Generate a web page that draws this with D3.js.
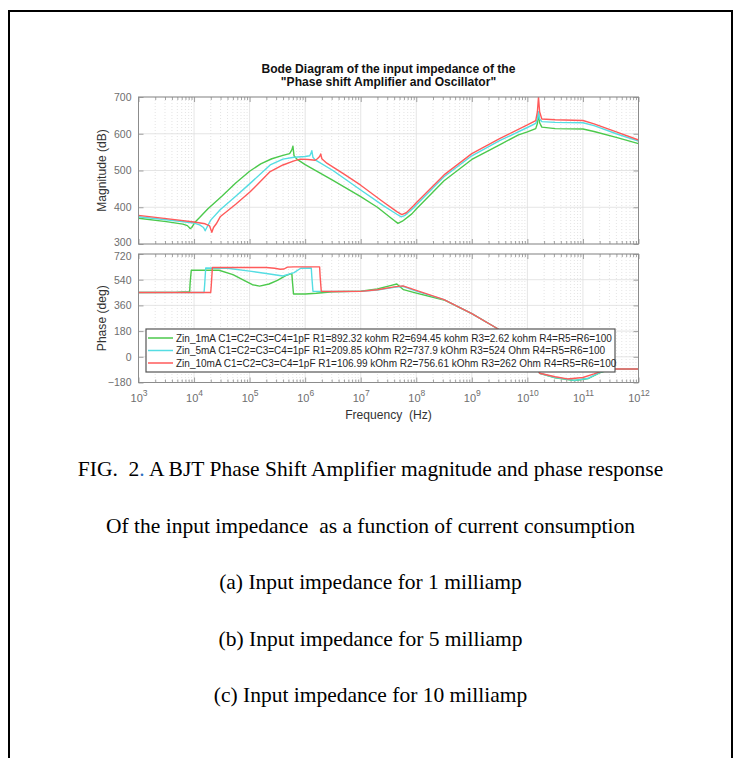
<!DOCTYPE html>
<html>
<head>
<meta charset="utf-8">
<script src="https://cdn.jsdelivr.net/npm/d3@7"></script>
<style>
  body { margin: 0; background: #fff; }
  svg { display: block; }
  text { white-space: pre; }
</style>
</head>
<body>
<svg id="fig" width="737" height="758"></svg>
<script>
// ---- data ---------------------------------------------------------------
const titleLines = ["Bode Diagram of the input impedance of the", "\"Phase shift Amplifier and Oscillator\""];
const seriesLabels = [
  "Zin_1mA C1=C2=C3=C4=1pF R1=892.32 kohm R2=694.45 kohm R3=2.62 kohm R4=R5=R6=100",
  "Zin_5mA C1=C2=C3=C4=1pF R1=209.85 kOhm R2=737.9 kOhm R3=524 Ohm R4=R5=R6=100",
  "Zin_10mA C1=C2=C3=C4=1pF R1=106.99 kOhm R2=756.61 kOhm R3=262 Ohm R4=R5=R6=100"
];
const seriesColors = ["#4cc94c", "#55dde3", "#ff5a5a"];
const freqDecades = [3, 4, 5, 6, 7, 8, 9, 10, 11, 12];   // log10(Hz)
const magTicks = [300, 400, 500, 600, 700];
const phaseTicks = [-180, 0, 180, 360, 540, 720];
const captionLines = [
  "Of the input impedance  as a function of current consumption",
  "(a) Input impedance for 1 milliamp",
  "(b) Input impedance for 5 milliamp",
  "(c) Input impedance for 10 milliamp"
];

// magnitude, [log10(f / Hz), dB]
const mag1mA = [[3.00,370],[3.50,361],[3.80,354],[3.88,350],[3.93,342],[3.96,345],[4.02,360],[4.10,372],[4.25,396],[4.50,430],[4.75,466],[5.00,498],[5.20,518],[5.40,532],[5.60,541],[5.72,546],[5.76,556],[5.78,566],[5.80,540],[5.85,531],[6.00,516],[6.27,493],[6.50,473],[7.00,429],[7.30,400],[7.55,370],[7.67,356],[7.75,362],[7.92,382],[8.00,395],[8.50,472],[9.00,530],[9.50,570],[9.84,597],[10.00,605],[10.15,614],[10.18,628],[10.20,655],[10.22,630],[10.26,618],[10.50,614],[11.00,613],[11.20,606],[11.60,590],[12.00,573]];
const mag5mA = [[3.00,374],[3.50,366],[4.00,357],[4.10,352],[4.17,345],[4.20,336],[4.23,345],[4.30,365],[4.47,393],[4.75,430],[5.01,465],[5.37,515],[5.60,531],[5.80,536],[6.00,538],[6.08,540],[6.10,545],[6.12,554],[6.14,536],[6.18,529],[6.50,500],[7.00,447],[7.40,405],[7.65,381],[7.73,374],[7.80,378],[7.95,398],[8.00,406],[8.50,483],[9.00,540],[9.50,581],[10.00,617],[10.15,628],[10.18,640],[10.20,660],[10.22,640],[10.26,633],[10.50,631],[11.00,630],[11.20,622],[11.60,600],[12.00,580]];
const mag10mA = [[3.00,378],[3.50,369],[4.00,360],[4.20,355],[4.28,349],[4.32,332],[4.35,345],[4.40,355],[4.47,374],[4.75,408],[5.01,442],[5.37,497],[5.60,515],[5.80,526],[5.91,531],[6.05,530],[6.18,528],[6.22,532],[6.26,538],[6.28,545],[6.30,532],[6.39,520],[6.70,490],[7.00,460],[7.40,415],[7.65,388],[7.74,380],[7.82,385],[7.95,404],[8.00,412],[8.50,488],[9.00,546],[9.50,587],[10.00,624],[10.15,636],[10.18,660],[10.20,700],[10.22,660],[10.26,640],[10.50,638],[11.00,636],[11.20,627],[11.60,605],[12.00,583]];

// phase, [log10(f / Hz), deg]
const phase1mA = [[3.00,450],[3.67,451],[3.80,454],[3.92,454],[3.93,520],[3.95,606],[4.45,606],[4.70,575],[4.90,535],[5.05,505],[5.18,495],[5.35,510],[5.50,535],[5.65,568],[5.76,584],[5.77,530],[5.79,440],[6.00,440],[6.20,445],[6.40,452],[6.50,456],[7.00,460],[7.30,475],[7.55,500],[7.65,510],[7.77,470],[8.00,446],[8.50,398],[9.00,302],[9.45,200],[9.80,110],[10.00,40],[10.15,-40],[10.22,-115],[10.50,-148],[10.85,-166],[11.10,-152],[11.30,-112],[11.50,-87],[12.00,-85]];
const phase5mA = [[3.00,450],[4.18,450],[4.19,500],[4.21,622],[4.60,620],[5.00,600],[5.30,583],[5.60,566],[5.80,590],[5.92,620],[6.11,622],[6.12,560],[6.14,459],[6.50,457],[7.00,458],[7.30,468],[7.60,486],[7.76,494],[8.00,460],[8.50,400],[9.00,302],[9.45,200],[9.80,110],[10.00,40],[10.15,-40],[10.22,-115],[10.50,-145],[10.85,-165],[11.10,-150],[11.30,-110],[11.45,-88],[11.55,-85],[12.00,-85]];
const phase10mA = [[3.00,450],[4.30,450],[4.31,500],[4.33,625],[5.30,625],[5.45,620],[5.55,613],[5.62,615],[5.68,628],[5.80,630],[6.26,630],[6.27,560],[6.29,459],[6.50,457],[7.00,458],[7.30,470],[7.60,490],[7.76,497],[8.00,465],[8.50,400],[9.00,302],[9.45,200],[9.80,110],[10.00,40],[10.15,-40],[10.22,-115],[10.50,-140],[10.72,-155],[11.00,-145],[11.20,-120],[11.43,-88],[11.55,-85],[12.00,-85]];

const magSeries = [mag1mA, mag5mA, mag10mA];
const phaseSeries = [phase1mA, phase5mA, phase10mA];

// ---- layout -------------------------------------------------------------
const svg = d3.select("#fig");
const W = 737, H = 758;
const left = 138.5, right = 638.5;
const magTop = 97, magBottom = 244;
const phTop = 254, phBottom = 382.5;
const sans = "'Liberation Sans', Arial, sans-serif";
const serif = "'Liberation Serif', 'Times New Roman', serif";

svg.append("rect").attr("width", W).attr("height", H).attr("fill", "#fff");
// outer frame
svg.append("rect").attr("x", 9).attr("y", 11).attr("width", 723).attr("height", 800)
  .attr("fill", "none").attr("stroke", "#000").attr("stroke-width", 2);

const x = d3.scaleLog().domain([1e3, 1e12]).range([left, right]);
const yMag = d3.scaleLinear().domain([300, 700]).range([magBottom, magTop]);
const yPh = d3.scaleLinear().domain([-180, 720]).range([phBottom, phTop]);

const majorF = freqDecades.map(d => Math.pow(10, d));
const minorF = [];
freqDecades.slice(0, -1).forEach(d => { for (let m = 2; m <= 9; m++) minorF.push(m * Math.pow(10, d)); });

function panel(y, ticks, top, bottom, showXLabels, labelShift) {
  const g = svg.append("g");
  g.append("rect").attr("x", left).attr("y", top).attr("width", right - left).attr("height", bottom - top).attr("fill", "#fff");
  // minor vertical grid
  g.append("g").selectAll("line").data(minorF).join("line")
    .attr("x1", d => x(d)).attr("x2", d => x(d)).attr("y1", top).attr("y2", bottom)
    .attr("stroke", "#d9d9d9").attr("stroke-width", 0.7).attr("stroke-dasharray", "1,2");
  // major grid
  g.append("g").selectAll("line").data(majorF).join("line")
    .attr("x1", d => x(d)).attr("x2", d => x(d)).attr("y1", top).attr("y2", bottom)
    .attr("stroke", "#dedede").attr("stroke-width", 0.8);
  g.append("g").selectAll("line").data(ticks).join("line")
    .attr("x1", left).attr("x2", right).attr("y1", d => y(d)).attr("y2", d => y(d))
    .attr("stroke", "#dedede").attr("stroke-width", 0.8);

  const axisStyle = sel => {
    sel.select(".domain").remove();
    sel.selectAll(".tick line").attr("stroke", "#8c8c8c").attr("stroke-width", 0.8);
  };
  // inward tick marks on all four sides
  g.append("g").attr("transform", `translate(0,${bottom})`)
    .call(d3.axisBottom(x).tickValues(majorF).tickSize(-5).tickFormat(""))
    .call(axisStyle);
  g.append("g").attr("transform", `translate(0,${bottom})`)
    .call(d3.axisBottom(x).tickValues(minorF).tickSize(-3).tickFormat(""))
    .call(axisStyle);
  g.append("g").attr("transform", `translate(0,${top})`)
    .call(d3.axisTop(x).tickValues(majorF).tickSize(-5).tickFormat(""))
    .call(axisStyle);
  g.append("g").attr("transform", `translate(0,${top})`)
    .call(d3.axisTop(x).tickValues(minorF).tickSize(-3).tickFormat(""))
    .call(axisStyle);
  const ly = g.append("g").attr("transform", `translate(${left},0)`)
    .call(d3.axisLeft(y).tickValues(ticks).tickSize(-5).tickPadding(7))
    .call(axisStyle);
  ly.selectAll(".tick text").attr("font-family", sans).attr("font-size", 10.5).attr("fill", "#6e6e6e")
    .attr("y", d => labelShift(d));
  g.append("g").attr("transform", `translate(${right},0)`)
    .call(d3.axisRight(y).tickValues(ticks).tickSize(-5).tickFormat(""))
    .call(axisStyle);

  if (showXLabels) {
    const lx = g.append("g").attr("transform", `translate(0,${bottom})`)
      .call(d3.axisBottom(x).tickValues(majorF).tickSize(0));
    lx.select(".domain").remove();
    lx.selectAll(".tick text").each(function (d) {
      const t = d3.select(this);
      t.text(null).attr("y", 0).attr("dy", 0).attr("transform", "translate(0,19)")
        .attr("font-family", sans).attr("font-size", 11).attr("fill", "#6e6e6e");
      t.append("tspan").text("10");
      t.append("tspan").attr("dy", -5.5).attr("font-size", 8.5).text(Math.round(Math.log10(d)));
    });
  }
  return g;
}

// the lowest magnitude label sits a touch high, the top phase label a touch low
const magPanel = panel(yMag, magTicks, magTop, magBottom, false, d => (d === 300 ? -1.5 : 0));
const phPanel = panel(yPh, phaseTicks, phTop, phBottom, true, d => (d === 720 ? 2.5 : 0));

// clip paths keep traces inside the axes
const defs = svg.append("defs");
defs.append("clipPath").attr("id", "clipMag").append("rect")
  .attr("x", left).attr("y", magTop).attr("width", right - left).attr("height", magBottom - magTop);
defs.append("clipPath").attr("id", "clipPh").append("rect")
  .attr("x", left).attr("y", phTop).attr("width", right - left).attr("height", phBottom - phTop);

const magLine = d3.line().x(d => x(Math.pow(10, d[0]))).y(d => yMag(d[1]));
const phLine = d3.line().x(d => x(Math.pow(10, d[0]))).y(d => yPh(d[1]));

svg.append("g").attr("clip-path", "url(#clipMag)").selectAll("path").data(magSeries).join("path")
  .attr("d", magLine).attr("fill", "none").attr("stroke", (d, i) => seriesColors[i])
  .attr("stroke-width", 1.4).attr("stroke-linejoin", "round");
svg.append("g").attr("clip-path", "url(#clipPh)").selectAll("path").data(phaseSeries).join("path")
  .attr("d", phLine).attr("fill", "none").attr("stroke", (d, i) => seriesColors[i])
  .attr("stroke-width", 1.4).attr("stroke-linejoin", "round");

// axes boxes
[[magTop, magBottom], [phTop, phBottom]].forEach(([t, b]) => {
  svg.append("rect").attr("x", left).attr("y", t).attr("width", right - left).attr("height", b - t)
    .attr("fill", "none").attr("stroke", "#8c8c8c").attr("stroke-width", 1);
});

// axis labels
svg.append("text").attr("transform", `translate(106,${(magTop + magBottom) / 2}) rotate(-90)`)
  .attr("text-anchor", "middle").attr("font-family", sans).attr("font-size", 12.1).attr("fill", "#333")
  .text("Magnitude (dB)");
svg.append("text").attr("transform", `translate(106,${(phTop + phBottom) / 2}) rotate(-90)`)
  .attr("text-anchor", "middle").attr("font-family", sans).attr("font-size", 12.1).attr("fill", "#333")
  .text("Phase (deg)");
svg.append("text").attr("x", (left + right) / 2).attr("y", 418.5)
  .attr("text-anchor", "middle").attr("font-family", sans).attr("font-size", 12.1).attr("fill", "#333")
  .text("Frequency  (Hz)");

// title
svg.append("g").selectAll("text").data(titleLines).join("text")
  .attr("x", (left + right) / 2).attr("y", (d, i) => 72.5 + i * 13.5)
  .attr("text-anchor", "middle").attr("font-family", sans).attr("font-size", 12.1)
  .attr("font-weight", "bold").attr("fill", "#111").text(d => d);

// legend
const lg = svg.append("g");
lg.append("rect").attr("x", 146).attr("y", 329).attr("width", 469).attr("height", 43)
  .attr("fill", "#fff").attr("stroke", "#555").attr("stroke-width", 1.2);
seriesLabels.forEach((lab, i) => {
  const cy = 338 + i * 12.5;
  lg.append("line").attr("x1", 148).attr("x2", 173).attr("y1", cy).attr("y2", cy)
    .attr("stroke", seriesColors[i]).attr("stroke-width", 1.5);
  lg.append("text").attr("x", 176).attr("y", cy + 3.6).attr("font-family", sans).attr("font-size", 10)
    .attr("fill", "#262626").text(lab);
});

// caption
const capX = 370.5;
const capSize = 21.5;
const fig = svg.append("text").attr("x", capX).attr("y", 475.5).attr("text-anchor", "middle")
  .attr("font-family", serif).attr("font-size", capSize).attr("fill", "#000");
fig.append("tspan").text("FIG.  2");
fig.append("tspan").attr("fill", "#2e6fbf").text(".");
fig.append("tspan").text(" A BJT Phase Shift Amplifier magnitude and phase response");
svg.append("g").selectAll("text").data(captionLines).join("text")
  .attr("x", capX).attr("y", (d, i) => 532.5 + i * 56.5).attr("text-anchor", "middle")
  .attr("font-family", serif).attr("font-size", capSize).attr("fill", "#000").text(d => d);
</script>
</body>
</html>
